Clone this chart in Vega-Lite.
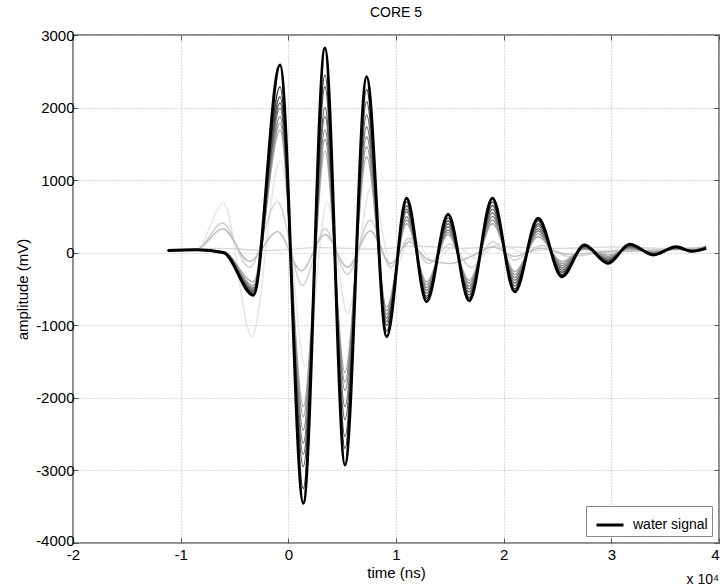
{
  "$schema": "https://vega.github.io/schema/vega-lite/v6.json",
  "width": 646,
  "height": 508,
  "autosize": {"type": "none"},
  "padding": {"left": 73, "top": 35, "right": 1, "bottom": 45},
  "title": {"text": "CORE 5", "fontSize": 14, "fontWeight": "normal", "font": "Liberation Sans", "offset": 8, "color": "#000"},
  "config": {
    "font": "Liberation Sans",
    "view": {"stroke": "#8c8c8c", "strokeWidth": 2},
    "axis": {
      "labelFont": "Liberation Sans", "labelFontSize": 15, "labelColor": "#000",
      "titleFont": "Liberation Sans", "titleFontSize": 15, "titleFontWeight": "normal", "titleColor": "#000",
      "domain": false, "tickColor": "#555", "tickSize": -5, "labelPadding": 4, "labelFlush": false,
      "gridColor": "#b4b4b4", "gridDash": [1, 2], "gridWidth": 1
    },
    "legend": {
      "labelFont": "Liberation Sans", "labelFontSize": 14, "labelColor": "#000"
    }
  },
  "datasets": {
    "traces": [
      {"s":"s01","t":-1.12,"a":30},{"s":"s01","t":-0.85,"a":50},{"s":"s01","t":-0.6,"a":680},{"s":"s01","t":-0.34,"a":-1160},{"s":"s01","t":-0.077,"a":1270},{"s":"s01","t":0.16,"a":-1570},{"s":"s01","t":0.36,"a":700},{"s":"s01","t":0.55,"a":-830},{"s":"s01","t":0.77,"a":910},{"s":"s01","t":0.97,"a":-250},{"s":"s01","t":1.15,"a":200},{"s":"s01","t":1.35,"a":-120},{"s":"s01","t":1.55,"a":100},{"s":"s01","t":1.75,"a":-80},{"s":"s01","t":1.95,"a":120},{"s":"s01","t":2.2,"a":0},{"s":"s01","t":2.5,"a":60},{"s":"s01","t":2.9,"a":30},{"s":"s01","t":3.3,"a":60},{"s":"s01","t":3.88,"a":40},
      {"s":"s02","t":-1.12,"a":40},{"s":"s02","t":-0.6,"a":60},{"s":"s02","t":-0.2,"a":30},{"s":"s02","t":0.3,"a":70},{"s":"s02","t":0.8,"a":50},{"s":"s02","t":1.2,"a":90},{"s":"s02","t":1.6,"a":60},{"s":"s02","t":2.0,"a":80},{"s":"s02","t":2.5,"a":60},{"s":"s02","t":3.0,"a":80},{"s":"s02","t":3.5,"a":60},{"s":"s02","t":3.88,"a":80},
      {"s":"s03","t":-1.12,"a":30},{"s":"s03","t":-0.85,"a":45},{"s":"s03","t":-0.61,"a":410},{"s":"s03","t":-0.36,"a":-200},{"s":"s03","t":-0.1,"a":700},{"s":"s03","t":0.13,"a":-450},{"s":"s03","t":0.34,"a":330},{"s":"s03","t":0.55,"a":-300},{"s":"s03","t":0.76,"a":450},{"s":"s03","t":0.95,"a":-200},{"s":"s03","t":1.12,"a":200},{"s":"s03","t":1.3,"a":-150},{"s":"s03","t":1.5,"a":120},{"s":"s03","t":1.7,"a":-200},{"s":"s03","t":1.9,"a":150},{"s":"s03","t":2.1,"a":-100},{"s":"s03","t":2.35,"a":100},{"s":"s03","t":2.6,"a":-50},{"s":"s03","t":3.0,"a":10},{"s":"s03","t":3.5,"a":30},{"s":"s03","t":3.88,"a":60},
      {"s":"s04","t":-1.12,"a":30},{"s":"s04","t":-0.85,"a":45},{"s":"s04","t":-0.61,"a":330},{"s":"s04","t":-0.36,"a":-120},{"s":"s04","t":-0.1,"a":290},{"s":"s04","t":0.12,"a":-250},{"s":"s04","t":0.34,"a":250},{"s":"s04","t":0.55,"a":-200},{"s":"s04","t":0.76,"a":300},{"s":"s04","t":0.95,"a":-150},{"s":"s04","t":1.12,"a":150},{"s":"s04","t":1.3,"a":-100},{"s":"s04","t":1.5,"a":-150},{"s":"s04","t":1.7,"a":-50},{"s":"s04","t":1.9,"a":80},{"s":"s04","t":2.1,"a":-50},{"s":"s04","t":2.35,"a":60},{"s":"s04","t":2.6,"a":-20},{"s":"s04","t":3.0,"a":20},{"s":"s04","t":3.5,"a":40},{"s":"s04","t":3.88,"a":70},
      {"s":"s05","t":-1.12,"a":35},{"s":"s05","t":-0.85,"a":45},{"s":"s05","t":-0.6,"a":15},{"s":"s05","t":-0.325,"a":-400},{"s":"s05","t":-0.077,"a":1690},{"s":"s05","t":0.139,"a":-2121},{"s":"s05","t":0.34,"a":1400},{"s":"s05","t":0.526,"a":-1650},{"s":"s05","t":0.727,"a":1322},{"s":"s05","t":0.913,"a":-750},{"s":"s05","t":1.098,"a":400},{"s":"s05","t":1.284,"a":-400},{"s":"s05","t":1.484,"a":250},{"s":"s05","t":1.68,"a":-380},{"s":"s05","t":1.896,"a":400},{"s":"s05","t":2.103,"a":-260},{"s":"s05","t":2.32,"a":220},{"s":"s05","t":2.54,"a":-120},{"s":"s05","t":2.75,"a":50},{"s":"s05","t":2.97,"a":-30},{"s":"s05","t":3.17,"a":50},{"s":"s05","t":3.39,"a":10},{"s":"s05","t":3.6,"a":50},{"s":"s05","t":3.75,"a":30},{"s":"s05","t":3.88,"a":90},
      {"s":"s06","t":-1.12,"a":35},{"s":"s06","t":-0.85,"a":40},{"s":"s06","t":-0.6,"a":10},{"s":"s06","t":-0.325,"a":-450},{"s":"s06","t":-0.077,"a":1786},{"s":"s06","t":0.139,"a":-2258},{"s":"s06","t":0.34,"a":1560},{"s":"s06","t":0.526,"a":-1780},{"s":"s06","t":0.727,"a":1460},{"s":"s06","t":0.913,"a":-800},{"s":"s06","t":1.098,"a":450},{"s":"s06","t":1.284,"a":-440},{"s":"s06","t":1.484,"a":280},{"s":"s06","t":1.68,"a":-420},{"s":"s06","t":1.896,"a":450},{"s":"s06","t":2.103,"a":-300},{"s":"s06","t":2.32,"a":260},{"s":"s06","t":2.54,"a":-150},{"s":"s06","t":2.75,"a":60},{"s":"s06","t":2.97,"a":-50},{"s":"s06","t":3.17,"a":60},{"s":"s06","t":3.39,"a":0},{"s":"s06","t":3.6,"a":50},{"s":"s06","t":3.75,"a":30},{"s":"s06","t":3.88,"a":90},
      {"s":"s07","t":-1.12,"a":30},{"s":"s07","t":-0.85,"a":40},{"s":"s07","t":-0.6,"a":10},{"s":"s07","t":-0.325,"a":-480},{"s":"s07","t":-0.077,"a":1873},{"s":"s07","t":0.139,"a":-2442},{"s":"s07","t":0.34,"a":1690},{"s":"s07","t":0.526,"a":-1900},{"s":"s07","t":0.727,"a":1598},{"s":"s07","t":0.913,"a":-850},{"s":"s07","t":1.098,"a":496},{"s":"s07","t":1.284,"a":-480},{"s":"s07","t":1.484,"a":312},{"s":"s07","t":1.68,"a":-460},{"s":"s07","t":1.896,"a":500},{"s":"s07","t":2.103,"a":-340},{"s":"s07","t":2.32,"a":300},{"s":"s07","t":2.54,"a":-180},{"s":"s07","t":2.75,"a":60},{"s":"s07","t":2.97,"a":-70},{"s":"s07","t":3.17,"a":70},{"s":"s07","t":3.39,"a":0},{"s":"s07","t":3.6,"a":60},{"s":"s07","t":3.75,"a":30},{"s":"s07","t":3.88,"a":80},
      {"s":"s08","t":-1.12,"a":30},{"s":"s08","t":-0.85,"a":40},{"s":"s08","t":-0.6,"a":10},{"s":"s08","t":-0.325,"a":-500},{"s":"s08","t":-0.077,"a":1993},{"s":"s08","t":0.139,"a":-2625},{"s":"s08","t":0.34,"a":1873},{"s":"s08","t":0.526,"a":-2121},{"s":"s08","t":0.727,"a":1735},{"s":"s08","t":0.913,"a":-900},{"s":"s08","t":1.098,"a":565},{"s":"s08","t":1.284,"a":-520},{"s":"s08","t":1.484,"a":358},{"s":"s08","t":1.68,"a":-500},{"s":"s08","t":1.896,"a":550},{"s":"s08","t":2.103,"a":-380},{"s":"s08","t":2.32,"a":330},{"s":"s08","t":2.54,"a":-210},{"s":"s08","t":2.75,"a":70},{"s":"s08","t":2.97,"a":-90},{"s":"s08","t":3.17,"a":80},{"s":"s08","t":3.39,"a":-10},{"s":"s08","t":3.6,"a":60},{"s":"s08","t":3.75,"a":30},{"s":"s08","t":3.88,"a":80},
      {"s":"s09","t":-1.12,"a":30},{"s":"s09","t":-0.85,"a":40},{"s":"s09","t":-0.6,"a":5},{"s":"s09","t":-0.325,"a":-520},{"s":"s09","t":-0.077,"a":2062},{"s":"s09","t":0.139,"a":-2780},{"s":"s09","t":0.34,"a":2000},{"s":"s09","t":0.526,"a":-2300},{"s":"s09","t":0.727,"a":1900},{"s":"s09","t":0.913,"a":-950},{"s":"s09","t":1.098,"a":600},{"s":"s09","t":1.284,"a":-560},{"s":"s09","t":1.484,"a":400},{"s":"s09","t":1.68,"a":-540},{"s":"s09","t":1.896,"a":600},{"s":"s09","t":2.103,"a":-420},{"s":"s09","t":2.32,"a":370},{"s":"s09","t":2.54,"a":-240},{"s":"s09","t":2.75,"a":80},{"s":"s09","t":2.97,"a":-100},{"s":"s09","t":3.17,"a":90},{"s":"s09","t":3.39,"a":-20},{"s":"s09","t":3.6,"a":70},{"s":"s09","t":3.75,"a":30},{"s":"s09","t":3.88,"a":70},
      {"s":"s10","t":-1.12,"a":30},{"s":"s10","t":-0.85,"a":40},{"s":"s10","t":-0.6,"a":5},{"s":"s10","t":-0.325,"a":-540},{"s":"s10","t":-0.077,"a":2150},{"s":"s10","t":0.139,"a":-2948},{"s":"s10","t":0.34,"a":2287},{"s":"s10","t":0.526,"a":-2534},{"s":"s10","t":0.727,"a":2080},{"s":"s10","t":0.913,"a":-1000},{"s":"s10","t":1.098,"a":650},{"s":"s10","t":1.284,"a":-600},{"s":"s10","t":1.484,"a":440},{"s":"s10","t":1.68,"a":-580},{"s":"s10","t":1.896,"a":650},{"s":"s10","t":2.103,"a":-460},{"s":"s10","t":2.32,"a":400},{"s":"s10","t":2.54,"a":-270},{"s":"s10","t":2.75,"a":90},{"s":"s10","t":2.97,"a":-110},{"s":"s10","t":3.17,"a":100},{"s":"s10","t":3.39,"a":-20},{"s":"s10","t":3.6,"a":70},{"s":"s10","t":3.75,"a":20},{"s":"s10","t":3.88,"a":70},
      {"s":"s11","t":-1.12,"a":30},{"s":"s11","t":-0.85,"a":40},{"s":"s11","t":-0.6,"a":0},{"s":"s11","t":-0.325,"a":-560},{"s":"s11","t":-0.077,"a":2287},{"s":"s11","t":0.139,"a":-3250},{"s":"s11","t":0.34,"a":2450},{"s":"s11","t":0.526,"a":-2700},{"s":"s11","t":0.727,"a":2250},{"s":"s11","t":0.913,"a":-1080},{"s":"s11","t":1.098,"a":700},{"s":"s11","t":1.284,"a":-630},{"s":"s11","t":1.484,"a":480},{"s":"s11","t":1.68,"a":-620},{"s":"s11","t":1.896,"a":700},{"s":"s11","t":2.103,"a":-500},{"s":"s11","t":2.32,"a":440},{"s":"s11","t":2.54,"a":-300},{"s":"s11","t":2.75,"a":100},{"s":"s11","t":2.97,"a":-130},{"s":"s11","t":3.17,"a":110},{"s":"s11","t":3.39,"a":-30},{"s":"s11","t":3.6,"a":80},{"s":"s11","t":3.75,"a":20},{"s":"s11","t":3.88,"a":60}
    ],
    "water": [
      {"t":-1.12,"a":30},{"t":-0.85,"a":40},{"t":-0.6,"a":0},{"t":-0.325,"a":-585},{"t":-0.077,"a":2585},{"t":0.139,"a":-3452},{"t":0.34,"a":2820},{"t":0.526,"a":-2925},{"t":0.727,"a":2425},{"t":0.913,"a":-1157},{"t":1.098,"a":749},{"t":1.284,"a":-675},{"t":1.484,"a":529},{"t":1.68,"a":-661},{"t":1.896,"a":749},{"t":2.103,"a":-537},{"t":2.32,"a":474},{"t":2.54,"a":-330},{"t":2.75,"a":106},{"t":2.97,"a":-146},{"t":3.17,"a":116},{"t":3.39,"a":-30},{"t":3.6,"a":82},{"t":3.75,"a":20},{"t":3.88,"a":60}
    ]
  },
  "layer": [
    {
      "data": {"name": "traces"},
      "mark": {"type": "line", "interpolate": "monotone", "strokeWidth": 1.4},
      "encoding": {
        "x": {"field": "t", "type": "quantitative", "scale": {"domain": [-2, 4], "nice": false},
              "axis": {"orient": "bottom", "values": [-2, -1, 0, 1, 2, 3, 4], "title": "time (ns)", "grid": true, "titlePadding": 3,
                       "labelPadding": 9,
                       "labelAlign": {"condition": {"test": "datum.value == 4", "value": "right"}, "value": "center"},
                       "labelExpr": "'' + datum.value"}},
        "y": {"field": "a", "type": "quantitative", "scale": {"domain": [-4000, 3000], "nice": false},
              "axis": {"orient": "left", "values": [-4000, -3000, -2000, -1000, 0, 1000, 2000, 3000], "title": "amplitude (mV)", "grid": true,
                       "labelExpr": "'' + datum.value",
                       "labelOffset": {"condition": {"test": "datum.value == -4000", "value": -3}, "value": 0},
                       "titleX": -51, "titleY": 254, "titleAngle": -90, "titleBaseline": "middle", "titleAlign": "center"}},
        "color": {"field": "s", "type": "nominal",
                  "scale": {"domain": ["s01","s02","s03","s04","s05","s06","s07","s08","s09","s10","s11"],
                            "range": ["#e6e6e6","#d8d8d8","#d0d0d0","#bdbdbd","#aaaaaa","#999999","#888888","#777777","#666666","#555555","#3c3c3c"]},
                  "legend": null}
      }
    },
    {
      "data": {"name": "water"},
      "mark": {"type": "line", "interpolate": "monotone", "strokeWidth": 3},
      "encoding": {
        "x": {"field": "t", "type": "quantitative",
              "axis": {"orient": "top", "values": [-2, -1, 0, 1, 2, 3, 4], "title": null, "labels": false, "grid": false}},
        "y": {"field": "a", "type": "quantitative",
              "axis": {"orient": "right", "values": [-4000, -3000, -2000, -1000, 0, 1000, 2000, 3000], "title": null, "labels": false, "grid": false}},
        "color": {"datum": "water signal", "type": "nominal",
                  "scale": {"domain": ["water signal"], "range": ["#000000"]},
                  "legend": {"title": null, "orient": "bottom-right", "offset": 7, "padding": 4,
                             "strokeColor": "#888888", "fillColor": "#ffffff", "cornerRadius": 0,
                             "symbolType": "stroke", "symbolStrokeWidth": 3, "symbolSize": 729, "symbolOffset": 5,
                             "labelOffset": 8}}
      }
    },
    {
      "data": {"values": [{"t": 4, "a": -4000, "label": "x 10⁴"}]},
      "mark": {"type": "text", "align": "right", "baseline": "top", "dy": 30, "fontSize": 14, "font": "Liberation Sans", "color": "#000"},
      "encoding": {
        "x": {"field": "t", "type": "quantitative", "axis": null},
        "y": {"field": "a", "type": "quantitative", "axis": null},
        "text": {"field": "label"}
      }
    }
  ],
  "resolve": {"scale": {"color": "independent"}, "axis": {"x": "independent", "y": "independent"}}
}
